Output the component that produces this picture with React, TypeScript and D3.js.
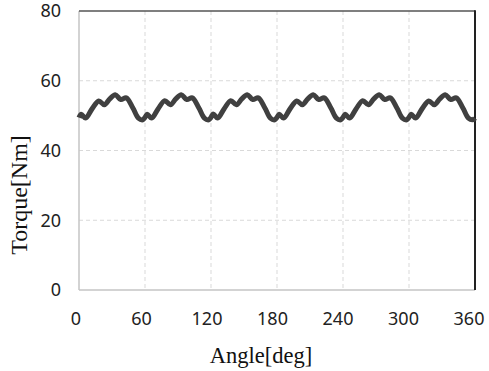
import { useEffect, useRef } from "react";
import * as d3 from "d3";

// Torque ripple over one electrical revolution
const angles = [
  0, 2, 6, 12, 18, 23, 28, 33, 38, 43, 49, 54, 58,
  60, 62, 66, 72, 78, 83, 88, 93, 98, 103, 109, 114, 118,
  120, 122, 126, 132, 138, 143, 148, 153, 158, 163, 169, 174, 178,
  180, 182, 186, 192, 198, 203, 208, 213, 218, 223, 229, 234, 238,
  240, 242, 246, 252, 258, 263, 268, 273, 278, 283, 289, 294, 298,
  300, 302, 306, 312, 318, 323, 328, 333, 338, 343, 349, 354, 358,
  360,
];
const torque = [
  49.4, 50.4, 49.3, 52.0, 54.2, 53.1, 54.8, 56.0, 54.6, 55.1, 52.2, 49.3, 48.8,
  49.5, 50.4, 49.3, 52.0, 54.3, 53.1, 54.8, 56.0, 54.6, 55.1, 52.2, 49.3, 48.8,
  49.5, 50.5, 49.3, 52.0, 54.3, 53.1, 54.8, 56.0, 54.6, 55.1, 52.2, 49.3, 48.8,
  49.5, 50.4, 49.3, 52.0, 54.2, 53.1, 54.8, 56.0, 54.6, 55.1, 52.2, 49.3, 48.8,
  49.5, 50.4, 49.3, 52.0, 54.3, 53.1, 54.8, 56.0, 54.6, 55.1, 52.2, 49.3, 48.8,
  49.5, 50.4, 49.3, 52.0, 54.2, 53.1, 54.8, 56.0, 54.6, 55.1, 52.2, 49.3, 48.8,
  49.3,
];
const xTicks = [0, 60, 120, 180, 240, 300, 360];
const yTicks = [0, 20, 40, 60, 80];

export default function App() {
  const ref = useRef<SVGSVGElement>(null);

  useEffect(() => {
    if (!ref.current) return;
    document.body.style.margin = "0";

    const width = 489;
    const height = 371;
    const m = { left: 79, right: 14, top: 11, bottom: 81 };

    const x = d3.scaleLinear().domain([0, 360]).range([m.left, width - m.right]);
    const y = d3.scaleLinear().domain([0, 80]).range([height - m.bottom, m.top]);

    const svg = d3.select(ref.current);
    svg.selectAll("*").remove();

    const grid = svg.append("g");
    // dashed grid lines
    grid.selectAll("line.v")
      .data(xTicks.slice(1, -1))
      .enter()
      .append("line")
      .attr("x1", (d) => x(d))
      .attr("x2", (d) => x(d))
      .attr("y1", y(80))
      .attr("y2", y(0))
      .attr("stroke", "#d9d9d9")
      .attr("stroke-dasharray", "4,3");
    grid.selectAll("line.h")
      .data(yTicks.slice(1, -1))
      .enter()
      .append("line")
      .attr("x1", x(0))
      .attr("x2", x(360))
      .attr("y1", (d) => y(d))
      .attr("y2", (d) => y(d))
      .attr("stroke", "#d9d9d9")
      .attr("stroke-dasharray", "4,3");

    // frame: light left/bottom, dark top/right
    svg.append("line")
      .attr("x1", x(0)).attr("x2", x(0)).attr("y1", y(80)).attr("y2", y(0))
      .attr("stroke", "#c4c4c4").attr("stroke-width", 1.5);
    svg.append("line")
      .attr("x1", x(0)).attr("x2", x(360)).attr("y1", y(0)).attr("y2", y(0))
      .attr("stroke", "#c4c4c4").attr("stroke-width", 1.5);
    svg.append("line")
      .attr("x1", x(0)).attr("x2", x(360)).attr("y1", y(80)).attr("y2", y(80))
      .attr("stroke", "#555").attr("stroke-width", 1.5);
    svg.append("line")
      .attr("x1", x(360)).attr("x2", x(360)).attr("y1", y(80) - 0.75).attr("y2", y(0))
      .attr("stroke", "#222").attr("stroke-width", 2);

    const line = d3.line<number>()
      .x((_, i) => x(angles[i]))
      .y((d) => y(d))
      .curve(d3.curveCatmullRom.alpha(0.5));

    svg.append("path")
      .datum(torque)
      .attr("d", line)
      .attr("fill", "none")
      .attr("stroke", "#404040")
      .attr("stroke-width", 5)
      .attr("stroke-linejoin", "round")
      .attr("stroke-linecap", "butt");

    const tickFont = "'Noto Sans', 'DejaVu Sans', sans-serif";
    svg.append("g")
      .selectAll("text")
      .data(xTicks)
      .enter()
      .append("text")
      .attr("x", (d) => x(d) - 3 - d / 120)
      .attr("y", 325)
      .attr("text-anchor", "middle")
      .attr("font-family", tickFont)
      .attr("font-size", 18)
      .attr("fill", "#222")
      .text((d) => d);

    svg.append("g")
      .selectAll("text")
      .data(yTicks)
      .enter()
      .append("text")
      .attr("x", 61)
      .attr("y", (d) => y(d))
      .attr("dy", "0.36em")
      .attr("text-anchor", "end")
      .attr("font-family", tickFont)
      .attr("font-size", 18)
      .attr("fill", "#222")
      .text((d) => d);

    const titleFont = "'Liberation Serif', 'Times New Roman', serif";
    svg.append("text")
      .attr("x", 261)
      .attr("y", 363)
      .attr("text-anchor", "middle")
      .attr("font-family", titleFont)
      .attr("font-size", 22.5)
      .attr("fill", "#111")
      .text("Angle[deg]");

    svg.append("text")
      .attr("transform", "translate(27,195) rotate(-90)")
      .attr("text-anchor", "middle")
      .attr("font-family", titleFont)
      .attr("font-size", 24)
      .attr("fill", "#111")
      .text("Torque[Nm]");
  }, []);

  return (
    <svg
      ref={ref}
      width={489}
      height={371}
      style={{ display: "block", position: "absolute", left: 0, top: 0, background: "#fff" }}
    />
  );
}
